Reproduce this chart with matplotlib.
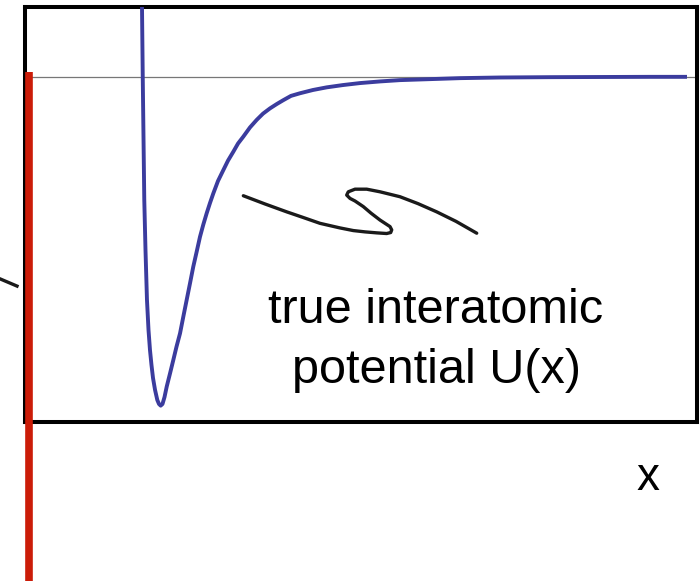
import matplotlib
matplotlib.use("Agg")
import matplotlib.pyplot as plt

plt.rcParams['font.family'] = ['Liberation Sans', 'DejaVu Sans']

# potential curve U(x) (x: 0..10 across the box, well depth = 1)
x_pot = [1.740, 1.752, 1.775, 1.793, 1.815, 1.838, 1.860, 1.882, 1.905, 1.935,
         1.969, 1.994, 2.019, 2.046, 2.076, 2.109, 2.158, 2.207, 2.254, 2.307,
         2.356, 2.406, 2.455, 2.504, 2.555, 2.604, 2.653, 2.704, 2.753, 2.802,
         2.872, 2.951, 3.021, 3.100, 3.170, 3.249, 3.348, 3.448, 3.542, 3.646,
         3.745, 3.844, 3.958, 4.092, 4.286, 4.490, 4.732, 4.985, 5.283, 5.580,
         6.027, 6.473, 7.068, 7.813, 8.557, 9.301, 9.851]
u_pot = [0.233, 0.0015, -0.376, -0.528, -0.680, -0.772, -0.833, -0.878, -0.918, -0.954,
         -0.985, -0.997, -1.002, -0.997, -0.976, -0.944, -0.904, -0.863, -0.823, -0.782,
         -0.731, -0.680, -0.630, -0.579, -0.533, -0.488, -0.451, -0.416, -0.385, -0.356,
         -0.318, -0.285, -0.256, -0.229, -0.204, -0.183, -0.155, -0.132, -0.113, -0.097,
         -0.084, -0.072, -0.059, -0.051, -0.041, -0.033, -0.026, -0.020, -0.015, -0.011,
         -0.008, -0.005, -0.003, -0.002, -0.0015, -0.001, -0.001]

# hand drawn squiggle pointing at the curve
x_sq = [3.249, 3.571, 3.894, 4.137, 4.390, 4.688, 4.885, 5.060, 5.234, 5.382,
        5.442, 5.457, 5.432, 5.283, 5.149, 5.034, 4.911, 4.836, 4.787, 4.811,
        4.911, 5.085, 5.283, 5.580, 5.848, 6.126, 6.414, 6.722]
u_sq = [-0.363, -0.388, -0.412, -0.429, -0.447, -0.461, -0.469, -0.473, -0.476, -0.478,
        -0.475, -0.467, -0.457, -0.437, -0.416, -0.396, -0.379, -0.371, -0.361, -0.351,
        -0.343, -0.343, -0.351, -0.366, -0.387, -0.412, -0.441, -0.477]

# red vertical line and the zero level
x_red = [0.06, 0.06]
u_red = [0.014, -1.536]
x_zero = [0.06, 10.0]
u_zero = [0.0, 0.0]

# cut-off stroke at the far left
x_tick = [-0.372, -0.119]
u_tick = [-0.616, -0.638]

fig = plt.figure(figsize=(7, 5.81), dpi=100)
ax = fig.add_axes([25 / 700, (581 - 422) / 581, 672 / 700, 415 / 581])
ax.set_xlim(0, 10)
ax.set_ylim(-1.0518, 0.2116)
ax.set_xticks([])
ax.set_yticks([])
for s in ax.spines.values():
    s.set_linewidth(2.9)
    s.set_color('black')

ax.plot(x_zero, u_zero, color='#777777', lw=0.9, zorder=2)
ax.plot(x_pot, u_pot, color='#3b3c9e', lw=2.8, zorder=3,
        solid_capstyle='butt', solid_joinstyle='round')
ax.plot(x_sq, u_sq, color='#1a1a1a', lw=2.4, zorder=3,
        solid_capstyle='round', solid_joinstyle='round')
ax.plot(x_red, u_red, color='#cb1c08', lw=5.5, zorder=4, clip_on=False, solid_capstyle='butt')
ax.plot(x_tick, u_tick, color='#1a1a1a', lw=2.4, clip_on=False)

ax.text(6.116, -0.749, 'true interatomic', fontsize=35, ha='center', va='baseline')
ax.text(6.12, -0.933, 'potential U(x)', fontsize=35, ha='center', va='baseline')
ax.text(9.271, -1.259, 'x', fontsize=33, ha='center', va='baseline', clip_on=False)

fig.savefig('out.png', dpi=100)
